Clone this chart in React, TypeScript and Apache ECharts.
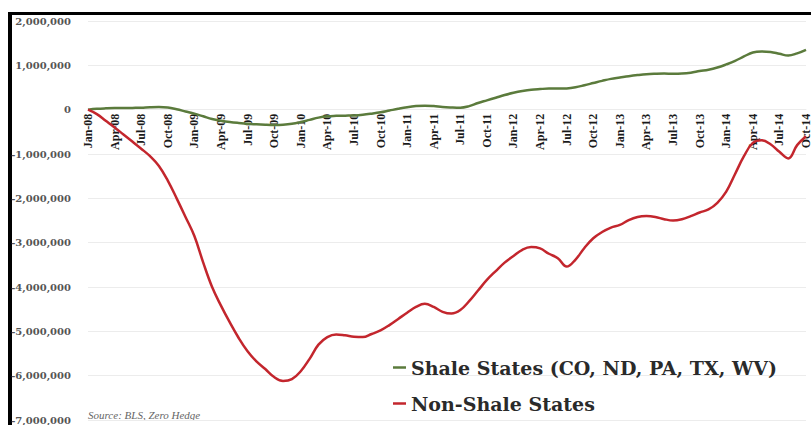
import React, { useEffect, useRef } from "react";
import * as echarts from "echarts";

const monthNames = ["Jan", "Feb", "Mar", "Apr", "May", "Jun", "Jul", "Aug", "Sep", "Oct", "Nov", "Dec"];
const years = ["08", "09", "10", "11", "12", "13", "14"];
const months: string[] = [];
years.forEach((y) => monthNames.forEach((m) => months.push(m + "-" + y)));
const categories = months.slice(0, 82); // Jan-08 .. Oct-14

// thousands of jobs vs Jan-08
const shaleK = [
  0, 20, 30, 35, 35, 40, 45, 55, 60, 50, 10, -40,
  -90, -150, -210, -250, -280, -300, -315, -330, -340, -345, -340, -320,
  -280, -230, -180, -150, -140, -135, -130, -115, -90, -60, -20, 20,
  55, 80, 90, 80, 60, 50, 45, 80, 150, 210, 270, 330,
  380, 420, 450, 465, 475, 475, 480, 505, 550, 600, 650, 695,
  725, 755, 780, 800, 810, 815, 810, 815, 835, 870, 900, 950,
  1020, 1100, 1200, 1290, 1310, 1300, 1260, 1220, 1270, 1350,
];
const nonShaleK = [
  0, -100, -250, -400, -560, -720, -880, -1050, -1270, -1600, -2000, -2420,
  -2850, -3450, -4000, -4420, -4800, -5150, -5450, -5680, -5850, -6030, -6120, -6080,
  -5900, -5620, -5300, -5130, -5070, -5090, -5120, -5130, -5060, -4980, -4860, -4720,
  -4580, -4450, -4380, -4450, -4560, -4600, -4520, -4320, -4080, -3840, -3640, -3450,
  -3300, -3160, -3100, -3130, -3250, -3350, -3540, -3380, -3120, -2900, -2760, -2660,
  -2600, -2490, -2420, -2400, -2420, -2470, -2500, -2470, -2400, -2320, -2250, -2100,
  -1850, -1450, -1050, -750, -690, -780, -950, -1100, -800, -600,
];
const shale = shaleK.map((v) => v * 1000);
const nonShale = nonShaleK.map((v) => v * 1000);

const seriesNames = ["Shale States (CO, ND, PA, TX, WV)", "Non-Shale States"];
const sourceText = "Source: BLS, Zero Hedge";

const Y_MIN = -7000000;
const Y_MAX = 2000000;
const GRID_TOP = 21;
const GRID_BOTTOM = 5;
const CHART_H = 425;

const TIMES = "Liberation Serif";
const WIDE = "DejaVu Serif";

export default function App() {
  const ref = useRef<HTMLDivElement>(null);
  useEffect(() => {
    document.body.style.margin = "0";
    const chart = echarts.init(ref.current!, null, { renderer: "svg" });
    // place the category axis on the zero line
    const plotH = CHART_H - GRID_TOP - GRID_BOTTOM;
    const zeroFromBottom = (plotH * (0 - Y_MIN)) / (Y_MAX - Y_MIN);
    chart.setOption({
      animation: false,
      backgroundColor: "#ffffff",
      grid: {
        left: 88,
        right: 5,
        top: GRID_TOP,
        bottom: GRID_BOTTOM,
        containLabel: false,
        outerBoundsMode: "none",
      },
      legend: {
        orient: "vertical",
        left: 388,
        top: 353,
        itemGap: 17,
        itemWidth: 13,
        itemHeight: 2.5,
        icon: "rect",
        data: seriesNames,
        textStyle: { fontFamily: WIDE, fontSize: 19, fontWeight: "bold", color: "#2a2a2a" },
      },
      xAxis: {
        type: "category",
        data: categories,
        boundaryGap: false,
        position: "bottom",
        offset: -zeroFromBottom,
        axisLine: { show: true, onZero: false, lineStyle: { color: "#ececec", width: 1 } },
        axisTick: { show: false },
        splitLine: { show: false },
        axisLabel: {
          rotate: 90,
          interval: 2,
          margin: 4,
          fontFamily: TIMES,
          fontSize: 12,
          fontWeight: "bold",
          color: "#1a1a1a",
        },
      },
      yAxis: {
        type: "value",
        min: Y_MIN,
        max: Y_MAX,
        interval: 1000000,
        axisLine: { show: false },
        axisTick: { show: false },
        splitLine: { lineStyle: { color: "#ececec", width: 1 } },
        axisLabel: {
          margin: 17,
          fontFamily: WIDE,
          fontSize: 10,
          fontWeight: "bold",
          color: "#555",
          formatter: (v: number) => (v === 0 ? "0" : v.toLocaleString("en-US")),
        },
      },
      series: [
        {
          name: seriesNames[0],
          type: "line",
          data: shale,
          smooth: 0.4,
          showSymbol: false,
          lineStyle: { color: "#5b7b3c", width: 2.5 },
          itemStyle: { color: "#5b7b3c" },
        },
        {
          name: seriesNames[1],
          type: "line",
          data: nonShale,
          smooth: 0.4,
          showSymbol: false,
          lineStyle: { color: "#c3262d", width: 2.5 },
          itemStyle: { color: "#c3262d" },
        },
      ],
      graphic: [
        {
          type: "line",
          shape: { x1: 8, y1: 13.5, x2: 811, y2: 13.5 },
          style: { stroke: "#000", lineWidth: 3 },
        },
        {
          type: "line",
          shape: { x1: 10, y1: 12, x2: 10, y2: 425 },
          style: { stroke: "#000", lineWidth: 4 },
        },
        {
          type: "text",
          left: 88,
          top: 409,
          style: {
            text: sourceText,
            fontFamily: TIMES,
            fontStyle: "italic",
            fontSize: 11,
            fill: "#666",
          },
        },
      ],
    });
    return () => chart.dispose();
  }, []);
  return <div ref={ref} style={{ width: 811, height: 425 }} />;
}
